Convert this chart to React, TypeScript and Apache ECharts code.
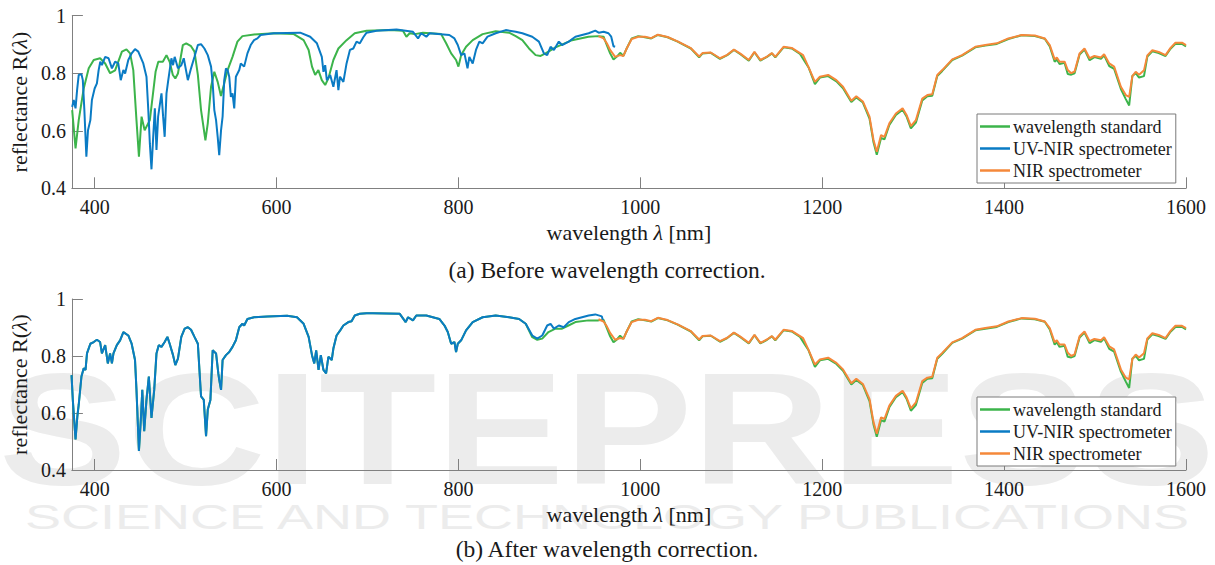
import React, { useEffect, useRef } from "react";
import * as echarts from "echarts";

// ---------- data (wavelength nm, reflectance) ----------
const xTicks = [400, 600, 800, 1000, 1200, 1400, 1600];
const seriesNames = ["wavelength standard", "UV-NIR spectrometer", "NIR spectrometer"];
const captions = ["(a) Before wavelength correction.", "(b) After wavelength correction."];

// wavelength standard, before correction, UV-VIS part
const stdBefore: number[][] = [
  [375.3,0.672],[379,0.539],[382.5,0.637],[388,0.747],[393.5,0.817],[399,0.846],[406,0.852],[411.6,0.834],[417,0.80],[422.5,0.81],
  [430,0.875],[435,0.883],[439,0.869],[442.5,0.811],[446,0.637],[448.7,0.51],[451.6,0.649],[455,0.602],[460.7,0.637],[467,0.805],
  [470,0.84],[475,0.84],[479,0.863],[482.5,0.84],[486,0.794],[488.7,0.782],[491.6,0.799],[497,0.898],[500.7,0.904],[506,0.894],
  [509.8,0.875],[513.5,0.794],[517,0.672],[521.8,0.567],[524.4,0.626],[528,0.753],[531.6,0.805],[535.3,0.77],[538.9,0.721],[542.5,0.765],
  [546.2,0.811],[551.6,0.857],[557,0.91],[562.5,0.929],[575.3,0.935],[597,0.939],[619,0.936],[629.8,0.915],[635.3,0.881],[639,0.823],
  [642.5,0.794],[646,0.811],[649.8,0.776],[653.5,0.759],[657,0.782],[662.5,0.846],[668,0.886],[677,0.915],[686,0.939],[699,0.948],
  [724.6,0.95],[739,0.948],[742.8,0.927],[746.4,0.939],[752,0.936],[761,0.941],[781,0.936],[786.5,0.904],[792,0.869],[797.4,0.846],
  [800,0.823],[803,0.863],[808.4,0.892],[815.7,0.915],[826.6,0.936],[841,0.946],[855.7,0.941],[863,0.929],[870.3,0.915],[877.6,0.886],
  [884.9,0.863],[890.3,0.86],[895.8,0.869],[906.7,0.89],[925,0.915],[943,0.927],[954,0.929],
];

// wavelength standard, after correction, 878-958 nm (below that it lies under the UV-NIR curve)
const stdAfterJoin: number[][] = [
  [881.2,0.866],[886.7,0.857],[892.2,0.861],[899,0.884],[906.7,0.896],[914,0.896],[921,0.907],[928.6,0.919],[943,0.925],[954,0.925],
];

// wavelength standard, NIR part (same in both panels)
const stdTail: number[][] = [
  [959.6,0.927],[963.2,0.898],[966.8,0.869],[970.5,0.848],[974,0.857],[977.8,0.871],[981.4,0.86],[985,0.886],[990.5,0.921],[997.8,0.929],
  [1005,0.925],[1012,0.921],[1019.3,0.933],[1030,0.925],[1041,0.91],[1055.6,0.886],[1064.7,0.855],[1068.4,0.869],[1077.5,0.871],[1087.6,0.85],
  [1095.6,0.863],[1102.9,0.881],[1110,0.866],[1119.3,0.844],[1125.5,0.873],[1132,0.844],[1139.3,0.857],[1144.7,0.869],[1148.4,0.855],[1157.5,0.89],
  [1166.5,0.886],[1175.6,0.867],[1181,0.84],[1185,0.82],[1192,0.762],[1197.5,0.785],[1206.5,0.79],[1215.6,0.772],[1222.9,0.748],[1232,0.70],
  [1237.5,0.716],[1244.7,0.698],[1252,0.642],[1256.4,0.56],[1260,0.517],[1264.7,0.575],[1268.4,0.57],[1273.8,0.62],[1281,0.655],[1288.4,0.673],
  [1292.7,0.65],[1297.5,0.608],[1303,0.628],[1310,0.705],[1315.6,0.72],[1321,0.722],[1326.5,0.79],[1332,0.808],[1343,0.846],[1353.8,0.861],
  [1368.4,0.89],[1379.3,0.896],[1392,0.902],[1404.7,0.919],[1419.3,0.932],[1433.8,0.929],[1444.7,0.92],[1450.2,0.893],[1455.6,0.84],[1458,0.848],
  [1461,0.832],[1466.5,0.836],[1470,0.797],[1473.8,0.795],[1477.5,0.80],[1483,0.865],[1488.4,0.882],[1494,0.845],[1499.3,0.856],[1506.5,0.85],
  [1510,0.862],[1515.6,0.825],[1521,0.815],[1528.4,0.745],[1533.8,0.71],[1537.5,0.688],[1541,0.79],[1544.7,0.80],[1548.4,0.785],[1553.8,0.79],
  [1557.5,0.858],[1563,0.876],[1570,0.87],[1577.5,0.86],[1583,0.885],[1588.4,0.902],[1595.6,0.902],[1600,0.893],
];

// UV-NIR spectrometer, before correction
const uvBefore: number[][] = [
  [375.3,0.683],[377,0.707],[379,0.678],[380.7,0.741],[382.5,0.794],[385.5,0.797],[387,0.776],[388.7,0.672],[390.9,0.51],[392.7,0.602],
  [395.3,0.637],[397,0.707],[400,0.747],[402.5,0.765],[404.4,0.811],[406.2,0.84],[408,0.828],[411.6,0.857],[415.3,0.852],[419,0.817],
  [422.5,0.84],[426,0.834],[428.7,0.776],[431.6,0.811],[433.5,0.799],[437,0.846],[440.7,0.869],[444.4,0.884],[448,0.875],[453.5,0.834],
  [457,0.788],[459,0.672],[460.7,0.556],[462.5,0.466],[464.4,0.579],[466.2,0.678],[468,0.533],[469.8,0.649],[473.5,0.73],[475.3,0.649],
  [477,0.579],[479,0.73],[480.7,0.77],[484.4,0.852],[486.2,0.828],[488,0.857],[491.6,0.817],[495.3,0.828],[498,0.852],[502.5,0.776],
  [506,0.817],[509.8,0.857],[513.5,0.898],[517,0.901],[520.7,0.886],[524.4,0.863],[528,0.823],[529.8,0.765],[531.6,0.672],[533.5,0.637],
  [535.3,0.579],[537,0.515],[539,0.602],[540.7,0.649],[542.5,0.776],[544.4,0.817],[546.2,0.811],[548,0.788],[549.8,0.718],[551.6,0.73],
  [553.5,0.678],[555.3,0.788],[559,0.811],[560.7,0.834],[564.4,0.823],[568,0.869],[571.6,0.898],[575.3,0.915],[579,0.921],[582.5,0.933],
  [597,0.939],[626,0.941],[637,0.927],[644.4,0.904],[649.8,0.857],[651.6,0.805],[653.5,0.828],[655.3,0.776],[659,0.794],[662.5,0.753],
  [666,0.811],[668,0.741],[669.8,0.788],[673.5,0.77],[677,0.834],[680.7,0.881],[684.4,0.886],[688,0.91],[691.6,0.904],[695.4,0.925],
  [699,0.941],[710,0.948],[731.9,0.952],[750,0.944],[755.6,0.921],[759,0.939],[764.7,0.927],[768.3,0.939],[790,0.933],[795.6,0.921],
  [799.3,0.898],[803,0.863],[806.6,0.869],[810,0.817],[812,0.857],[815.7,0.834],[819.3,0.881],[823,0.91],[826.6,0.904],[832,0.927],
  [841,0.939],[852,0.95],[863,0.944],[870.3,0.939],[881.2,0.927],[888.5,0.91],[894,0.869],[897.6,0.863],[901.3,0.892],[905,0.881],
  [910.4,0.91],[914,0.898],[921.3,0.91],[928.6,0.927],[935.9,0.933],[943.2,0.939],[950.5,0.948],[954.2,0.941],[959.7,0.944],[965,0.939],
  [968,0.927],[970.5,0.894],[972.3,0.892],
];

// UV-NIR spectrometer, after correction
const uvAfter: number[][] = [
  [374.6,0.733],[376,0.646],[379,0.507],[381,0.588],[382.5,0.629],[385.5,0.728],[388,0.757],[390,0.751],[391.6,0.809],[395.3,0.843],
  [399,0.849],[402.5,0.857],[406,0.849],[408,0.809],[411.6,0.838],[414.5,0.774],[417,0.809],[419,0.774],[420.7,0.809],[424.4,0.838],
  [428,0.855],[431.6,0.884],[437,0.872],[440.7,0.843],[444.4,0.786],[446,0.681],[448.7,0.467],[451,0.588],[452.4,0.681],[454.5,0.536],
  [457,0.646],[459.6,0.728],[462.5,0.583],[465.5,0.681],[468,0.809],[470.5,0.838],[473.5,0.832],[477,0.849],[480,0.867],[482.5,0.843],
  [486.2,0.803],[488.7,0.768],[491.6,0.791],[495.3,0.867],[499,0.896],[502.5,0.901],[506,0.892],[509.8,0.867],[513.5,0.843],[517,0.658],
  [520,0.646],[522.5,0.519],[524.4,0.612],[527.3,0.646],[529.8,0.82],[533.5,0.809],[536,0.739],[537,0.716],[539,0.681],[540.7,0.786],
  [544.4,0.803],[548,0.814],[551.6,0.832],[555.3,0.855],[559,0.901],[562.5,0.913],[564.4,0.907],[568,0.93],[575.3,0.936],[590,0.939],
  [611.6,0.941],[622.5,0.936],[629.8,0.913],[635.3,0.867],[639,0.803],[641.5,0.774],[643.6,0.82],[646.2,0.751],[648.7,0.803],[651.6,0.751],
  [654.5,0.739],[657,0.797],[660.7,0.786],[662.5,0.826],[666,0.872],[670,0.89],[673.5,0.907],[679,0.919],[682.5,0.922],[686,0.942],
  [691.6,0.948],[699,0.95],[706,0.95],[735.5,0.948],[742,0.919],[744.6,0.936],[750,0.925],[753.7,0.942],[764.7,0.942],[779,0.93],
  [784.7,0.907],[788.3,0.884],[792,0.843],[795.6,0.849],[797.4,0.814],[799.3,0.843],[803,0.855],[808.4,0.89],[815.7,0.919],[826.6,0.936],
  [841,0.942],[855.7,0.936],[866.7,0.93],[874,0.913],[881.2,0.872],[886.7,0.861],[892.2,0.872],[897.6,0.907],[901.3,0.913],[905,0.896],
  [910.4,0.907],[915.8,0.901],[921.3,0.919],[928.6,0.93],[935.9,0.936],[943.2,0.942],[950.5,0.946],[957.7,0.939],[958.8,0.925],
];

// NIR spectrometer (same in both panels)
const nir: number[][] = [
  [954,0.929],[959.6,0.921],[963.2,0.904],[966.8,0.881],[972.3,0.857],[977.8,0.863],[981.4,0.86],[985,0.886],[990.5,0.919],[997.8,0.927],
  [1005,0.927],[1012,0.922],[1019.3,0.934],[1030,0.926],[1041,0.911],[1055.6,0.887],[1064.7,0.858],[1068.4,0.87],[1077.5,0.872],[1087.6,0.852],
  [1095.6,0.864],[1102.9,0.882],[1110,0.868],[1119.3,0.846],[1125.5,0.874],[1132,0.846],[1139.3,0.858],[1144.7,0.87],[1148.4,0.857],[1157.5,0.892],
  [1166.5,0.888],[1175.6,0.87],[1179,0.863],[1184.7,0.823],[1192,0.77],[1197.5,0.788],[1206.5,0.794],[1215.6,0.776],[1222.9,0.753],[1232,0.704],
  [1237.5,0.72],[1244.7,0.702],[1252,0.649],[1256.4,0.568],[1260,0.527],[1264.7,0.585],[1268.4,0.579],[1273.8,0.626],[1281,0.66],[1288.4,0.678],
  [1292.7,0.655],[1297.5,0.616],[1303,0.637],[1310,0.712],[1315.6,0.724],[1321,0.727],[1326.5,0.794],[1332,0.811],[1343,0.848],[1353.8,0.863],
  [1368.4,0.892],[1379.3,0.898],[1392,0.904],[1404.7,0.921],[1419.3,0.933],[1433.8,0.931],[1444.7,0.921],[1450.2,0.898],[1455.6,0.848],[1458,0.855],
  [1461,0.84],[1466.5,0.84],[1470,0.811],[1473.8,0.80],[1477.5,0.806],[1483,0.869],[1488.4,0.886],[1494,0.852],[1499.3,0.86],[1506.5,0.855],
  [1510,0.866],[1515.6,0.834],[1521,0.823],[1528.4,0.753],[1533.8,0.724],[1537.5,0.718],[1541,0.79],[1544.7,0.805],[1548.4,0.795],[1553.8,0.81],
  [1557.5,0.862],[1563,0.88],[1570,0.874],[1577.5,0.863],[1583,0.888],[1588.4,0.906],[1595.6,0.906],[1600,0.898],
];

// ---------- styling ----------
const SERIF = '"Liberation Serif", "Times New Roman", serif';
const SANS = '"Liberation Sans", Arial, sans-serif';
const COLORS = ["#3cb44b", "#0a7bc4", "#f5883a"];
const AXIS_GRAY = "#808080";
const TEXT = "#1a1a1a";

export default function App() {
  const ref = useRef<HTMLDivElement>(null);

  useEffect(() => {
    if (!ref.current) return;
    const chart = echarts.init(ref.current, undefined, { renderer: "svg" });

    const stdBeforeFull = [...stdBefore, ...stdTail];
    const stdAfterFull = [...uvAfter.filter((p) => p[0] < 878), ...stdAfterJoin, ...stdTail];

    const grids = [
      { left: 63, right: 29, top: 15.7, height: 172.6 },
      { left: 63, right: 29, top: 299, height: 171 },
    ];

    const nameStyle = {
      fontFamily: SERIF, fontSize: 22, color: TEXT,
      rich: { i: { fontFamily: SERIF, fontSize: 22, fontStyle: "italic", color: TEXT } },
    };

    const xAxis = grids.map((_, i) => ({
      type: "value",
      gridIndex: i,
      min: 375,
      max: 1600,
      name: "wavelength {i|λ} [nm]",
      nameLocation: "middle",
      nameGap: 33,
      nameTextStyle: nameStyle,
      axisLine: { show: true, lineStyle: { color: AXIS_GRAY, width: 1 } },
      axisTick: { show: true, inside: true, length: 11, customValues: xTicks, lineStyle: { color: AXIS_GRAY } },
      axisLabel: {
        customValues: xTicks, fontFamily: SERIF, fontSize: 20, color: TEXT, margin: 9,
        formatter: (v: number) => String(v),
      },
      splitLine: { show: false },
    }));

    const yAxis = grids.map((_, i) => ({
      type: "value",
      gridIndex: i,
      min: 0.4,
      max: 1,
      interval: 0.2,
      name: "reflectance R({i|λ})",
      nameLocation: "middle",
      nameGap: 34,
      nameTextStyle: nameStyle,
      axisLine: { show: true, lineStyle: { color: AXIS_GRAY, width: 1 } },
      axisTick: { show: true, inside: true, length: 11, lineStyle: { color: AXIS_GRAY } },
      axisLabel: {
        fontFamily: SERIF, fontSize: 20, color: TEXT, margin: 6,
        formatter: (v: number) => String(Math.round(v * 10) / 10),
      },
      splitLine: { show: false },
    }));

    const panelData = [
      [stdBeforeFull, uvBefore, nir],
      [stdAfterFull, uvAfter, nir],
    ];

    const series: any[] = [];
    panelData.forEach((sets, gi) => {
      sets.forEach((d, si) => {
        series.push({
          type: "line",
          name: seriesNames[si],
          xAxisIndex: gi,
          yAxisIndex: gi,
          data: d,
          symbol: "none",
          showSymbol: false,
          clip: true,
          color: COLORS[si],
          lineStyle: { color: COLORS[si], width: 2 },
          z: 3 + si,
        });
      });
    });

    const legendTops = [114, 397];
    const legend = legendTops.map((t) => ({
      data: seriesNames,
      orient: "vertical",
      left: 977,
      top: t,
      icon: "rect",
      itemWidth: 30,
      itemHeight: 2.5,
      itemGap: 1,
      padding: [2, 4, 2, 3],
      borderColor: "#7a7a7a",
      borderWidth: 1,
      backgroundColor: "#ffffff",
      selectedMode: false,
      textStyle: { fontFamily: SERIF, fontSize: 18, color: TEXT, lineHeight: 21, padding: [0, 0, 0, -2] },
    }));

    // faint publisher watermark in the background
    const wm = "#ececec";
    const graphic: any[] = [
      {
        type: "text", silent: true, z: -1, x: 607, y: 428, scaleX: 1.2,
        style: { text: "SCITEPRESS", fill: wm, font: `bold 160px ${SANS}`, align: "center", verticalAlign: "middle" },
      },
      {
        type: "text", silent: true, z: -1, x: 607, y: 516, scaleX: 1.5,
        style: { text: "SCIENCE AND TECHNOLOGY PUBLICATIONS", fill: wm, font: `36px ${SANS}`, align: "center", verticalAlign: "middle" },
      },
      ...captions.map((c, i) => ({
        type: "text", silent: true, z: 10, x: 607, y: i === 0 ? 270 : 549,
        style: { text: c, fill: TEXT, font: `23.5px ${SERIF}`, align: "center", verticalAlign: "middle" },
      })),
    ];

    chart.setOption({
      animation: false,
      backgroundColor: "#ffffff",
      grid: grids,
      xAxis,
      yAxis,
      legend,
      series,
      graphic,
    });

    return () => chart.dispose();
  }, []);

  return (
    <div
      ref={ref}
      style={{ position: "absolute", left: 0, top: 0, width: 1215, height: 565, background: "#fff" }}
    />
  );
}
